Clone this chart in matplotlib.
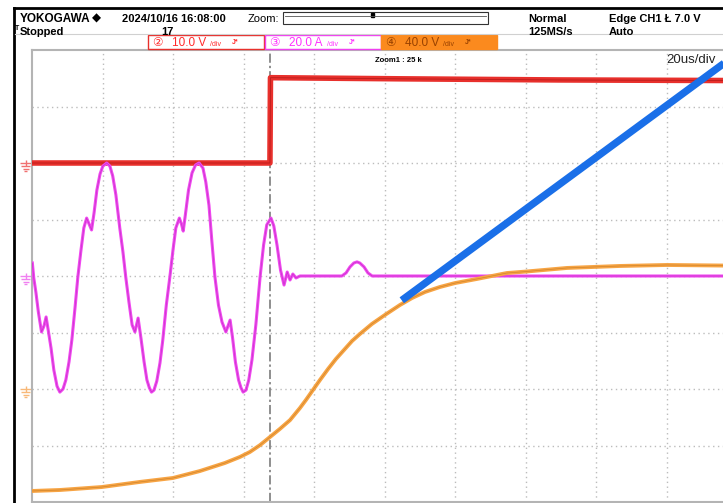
import matplotlib
matplotlib.use("Agg")
import matplotlib.pyplot as plt
import matplotlib.transforms as mtransforms
from matplotlib.patches import Rectangle
from matplotlib.lines import Line2D

W, H = 723, 503

# time in us (0 = trigger), 20 us/div
t_left = -67.5
us_div = 20.0
n_div_x = (723 - 32) / 70.5

# CH2 voltage (10 V/div, ground at +2 div)
t_ch2 = [-67.5, 0.0, 0.15, 37.0, 82.0, 128.5]
v_ch2 = [0.0, 0.0, 15.1, 14.9, 14.7, 14.6]

# CH3 current (20 A/div, ground at 0 div)
t_ch3 = [-67.4, -67.0, -66.4, -65.7, -64.8, -64.1, -63.5, -63.0, -62.1, -61.3,
         -60.4, -59.6, -58.7, -57.9, -57.0, -56.2, -55.3, -54.5, -53.6, -52.8,
         -52.0, -51.3, -50.6, -49.9, -49.1, -48.2, -47.4, -46.3, -45.4, -44.6,
         -43.7, -42.6, -41.7, -40.9, -40.0, -39.1, -38.3, -37.4, -36.6, -35.7,
         -34.9, -34.2, -33.6,
         -32.9, -32.1, -31.2, -30.4, -29.4, -28.4, -27.5, -26.7, -25.7, -25.1,
         -24.6, -24.0, -23.1, -22.1, -21.1, -20.1, -19.0, -18.2, -17.3, -16.5,
         -15.6, -14.6, -13.6, -12.5, -11.3, -10.6, -9.8, -8.9, -8.2, -7.6,
         -6.8, -6.0, -5.1, -4.0, -2.8, -1.8, -0.9, 0.3, 1.1, 2.0,
         3.0, 4.0, 4.9, 5.7, 6.5, 7.4, 8.5, 20.4, 21.6, 22.7,
         23.8, 24.7, 25.5, 26.7, 27.8, 29.0, 128.5]
i_ch3 = [4.6, -0.7, -5.7, -12.7, -19.8, -17.7, -14.5, -18.4, -25.5, -33.3,
         -39.0, -41.1, -40.0, -36.8, -30.4, -22.7, -11.3, -0.4, 9.2, 17.0,
         20.5, 18.4, 16.3, 22.3, 30.4, 36.1, 38.9, 40.0, 38.9, 35.4,
         28.7, 17.0, 8.5, -0.4, -9.2, -17.3, -19.8, -14.9, -21.9, -30.4,
         -36.8, -39.6, -41.1,
         -40.4, -37.2, -30.8, -22.7, -10.3, -0.4, 9.2, 17.0, 20.5, 18.4,
         15.9, 21.6, 30.4, 36.5, 39.3, 40.0, 38.2, 33.3, 25.1, 12.7,
         -0.4, -10.3, -16.3, -19.8, -15.6, -21.9, -30.4, -36.8, -39.6, -41.1,
         -40.4, -36.8, -29.7, -17.3, -0.4, 11.0, 18.1, 20.5, 17.7, 11.0,
         2.1, -3.2, 1.4, -1.4, 0.7, -0.7, 0.0, 0.0, 1.1, 3.2,
         4.6, 5.0, 4.6, 3.2, 1.1, 0.0, 0.0]

# CH4 voltage (40 V/div, ground at -2 div)
t_ch4 = [-67.5, -59.6, -47.7, -36.9, -27.5, -19.9, -12.8, -8.5, -5.7, -2.8,
         0.0, 2.8, 5.7, 8.5, 10.2, 12.2, 14.2, 16.5, 18.7, 21.0,
         23.3, 25.5, 28.9, 32.6, 36.9, 40.3, 44.0, 48.2, 52.5, 58.7,
         67.2, 72.9, 84.3, 99.3, 112.6, 128.5]
v_ch4 = [-72.2, -71.5, -69.4, -65.8, -63.0, -58.1, -52.4, -48.1, -44.6, -39.7,
         -34.0, -28.3, -22.0, -13.5, -7.8, -0.7, 6.4, 14.2, 21.2, 27.6,
         34.0, 38.9, 46.0, 52.4, 59.5, 64.4, 68.7, 72.2, 75.0, 77.9,
         82.1, 83.2, 85.7, 87.1, 87.8, 87.4]

ch_scale = {2: 10.0, 3: 20.0, 4: 40.0}
ch_offset = {2: 2.0, 3: 0.0, 4: -2.0}
ch_color = {2: "#e8302c", 3: "#f048f0", 4: "#f7a444"}
ch_light = {2: "#f07070", 3: "#f080f0", 4: "#f8b878"}

# hand drawn annotation line (us, div)
arrow_t = [37.4, 133.5]
arrow_y = [-0.43, 3.98]


def to_div(vals, ch):
    return [v / ch_scale[ch] + ch_offset[ch] for v in vals]


def fx(x):
    return x / W


def fy(y):
    return 1 - y / H


fig = plt.figure(figsize=(W / 100, H / 100), dpi=100)
fig.patch.set_facecolor("white")

ax = fig.add_axes([fx(32), fy(502), fx(723) - fx(32), fy(50) - fy(502)])
ax.set_xlim(t_left, t_left + n_div_x * us_div)
ax.set_ylim(-4, 4)
ax.set_xticks([])
ax.set_yticks([])
for s in ["left", "top", "bottom"]:
    ax.spines[s].set_color("#b4b4b4")
    ax.spines[s].set_linewidth(1.5)
ax.spines["right"].set_visible(False)

# graticule
for k in range(1, 10):
    ax.axvline(t_left + k * us_div, color="#bcbcbc", lw=1, ls=(0, (1, 2.5)), zorder=1)
for k in range(-3, 4):
    ax.axhline(k, color="#bcbcbc", lw=1, ls=(0, (1, 2.5)), zorder=1)
ax.axvline(0, color="#707070", lw=1.1, ls=(0, (6, 2, 1.5, 2)), zorder=2)

# traces
ax.plot(t_ch2, to_div(v_ch2, 2), color=ch_color[2], lw=4.0, zorder=3)
ax.plot(t_ch2, to_div(v_ch2, 2), color="#9a1010", lw=0.6, alpha=0.6, zorder=3)
ax.plot(t_ch3, to_div(i_ch3, 3), color=ch_color[3], lw=2.2, zorder=4)
ax.plot(t_ch3, to_div(i_ch3, 3), color="#a020a0", lw=0.5, alpha=0.5, zorder=4)
ax.plot(t_ch4, to_div(v_ch4, 4), color=ch_color[4], lw=2.8, zorder=5)
ax.plot(t_ch4, to_div(v_ch4, 4), color="#a06010", lw=0.5, alpha=0.45, zorder=5)

ax.plot(arrow_t, arrow_y, color="#1a6fe8", lw=5.3, solid_capstyle="butt",
        zorder=6, clip_on=False)

ax.text(0.497, 0.985, "Zoom1 : 25 k", transform=ax.transAxes, fontsize=5.5,
        fontweight="bold", ha="left", va="top", family="Liberation Sans")
ax.text(0.990, 0.972, "20us/div", transform=ax.transAxes, fontsize=9.5,
        ha="right", va="baseline", family="Liberation Sans", color="#222222",
        zorder=7)

# ground markers left of the screen area
gtr = mtransforms.blended_transform_factory(fig.transFigure, ax.transData)
pxd = 8.0 / 452  # div per pixel
for ch in (2, 3, 4):
    g = ch_offset[ch]
    c = ch_light[ch]
    kw = dict(transform=gtr, color=c, lw=1, clip_on=False, solid_capstyle="butt")
    ax.plot([fx(20), fx(32)], [g, g], **kw)
    ax.plot([fx(25.5), fx(25.5)], [g + 3 * pxd, g - 3 * pxd], **kw)
    for dy, half in [(3, 4.5), (5.5, 3), (8, 1.5)]:
        ax.plot([fx(25.5 - half), fx(25.5 + half)], [g - dy * pxd, g - dy * pxd], **kw)

# screen border
fig.add_artist(Line2D([fx(14), fx(723)], [fy(8), fy(8)], color="black", lw=2))
fig.add_artist(Line2D([fx(14), fx(14)], [fy(8), fy(503)], color="black", lw=2))
fig.add_artist(Line2D([fx(15), fx(723)], [fy(34), fy(34)], color="#d0d0d0", lw=0.8))

hfont = ["Liberation Sans", "DejaVu Sans"]


def htext(x, y, s, size=8.5, weight="bold", color="black", fam=None):
    fig.text(fx(x), fy(y), s, fontsize=size, fontweight=weight, color=color,
             family=fam or hfont, ha="left", va="baseline")


htext(20, 22, "YOKOGAWA")
htext(92, 22, "\u25c6", size=8.5, fam=["DejaVu Sans"])
htext(122, 22, "2024/10/16 16:08:00", size=8)
htext(248, 22, "Zoom:", size=8, weight="normal")
htext(15, 30, "T", size=5)
htext(20, 35, "Stopped", size=8)
htext(161, 35, "17", size=8)
htext(528, 22, "Normal", size=8)
htext(528, 35, "125MS/s", size=8)
htext(609, 22, "Edge CH1 \u0141 7.0 V", size=8)
htext(609, 35, "Auto", size=8)

# zoom position box
fig.add_artist(Rectangle((fx(283), fy(24)), fx(488) - fx(283), fy(12) - fy(24),
                         transform=fig.transFigure, fill=False, ec="#333333", lw=0.8))
fig.add_artist(Line2D([fx(285), fx(486)], [fy(16), fy(16)], color="#555555", lw=0.6))
fig.add_artist(Rectangle((fx(371), fy(16.5)), fx(3), fy(13) - fy(16.5),
                         transform=fig.transFigure, color="black"))

# channel boxes
boxes = [
    (148, "\u2461", "10.0 V", ch_color[2], None, "#ff2a2a"),
    (265, "\u2462", "20.0 A", "#f040f0", None, "#ff30ff"),
    (381, "\u2463", "40.0 V", "#fb8a1e", "#fb8a1e", "#9a4200"),
]
for x0, num, val, ec, fc, tc in boxes:
    fig.add_artist(Rectangle((fx(x0), fy(49)), fx(116), fy(35) - fy(49),
                             transform=fig.transFigure, fill=fc is not None,
                             fc=fc if fc else "none", ec=ec, lw=1))
    htext(x0 + 4, 46, num, size=8.5, weight="normal", color=tc,
          fam=["DejaVu Sans", "Noto Sans CJK JP"])
    htext(x0 + 24, 46, val, size=8.5, weight="normal", color=tc)
    htext(x0 + 62, 46, "/div", size=5, weight="normal", color=tc)
    htext(x0 + 84, 44, "J*", size=5, weight="bold", color=tc)

fig.savefig("out.png", dpi=100, facecolor="white")
